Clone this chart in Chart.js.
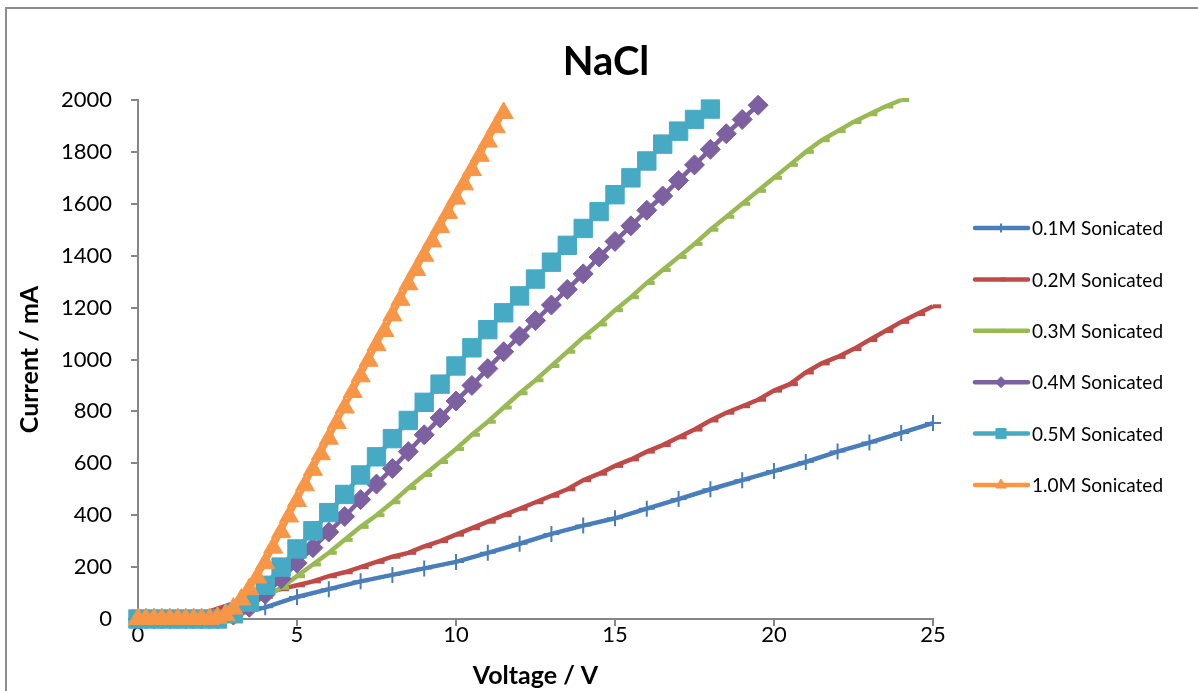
<!DOCTYPE html>
<html>
<head>
<meta charset="utf-8">
<title>NaCl</title>
<script src="https://cdn.jsdelivr.net/npm/chart.js@4.4.0/dist/chart.umd.min.js"></script>
<style>
  html, body { margin: 0; padding: 0; background: #fff; overflow: hidden; }
  #frame { position: absolute; left: 5px; top: 7px; width: 1400px; height: 900px; border: 2px solid #8c8c8c; }
  #chart { position: absolute; left: 0; top: 0; }
</style>
</head>
<body>
<div id="frame"></div>
<canvas id="chart" width="1198" height="691"></canvas>
<script>
(function () {
  'use strict';

  var BLUE   = '#4A7EBB';
  var RED    = '#BE4B48';
  var GREEN  = '#98B954';
  var PURPLE = '#7D60A0';
  var CYAN   = '#46AAC5';
  var ORANGE = '#F79646';
  var AXIS   = '#868686';
  var FONT   = 'Lato, "Open Sans", sans-serif';

  // ── Data (voltage in V, current in mA) ──────────────────
  var V_WHOLE = [0, 1, 2, 3, 4, 5, 6, 7, 8, 9, 10, 11, 12, 13, 14, 15, 16, 17, 18, 19, 20, 21, 22, 23, 24, 25];

  var V_HALF = [0, 0.5, 1, 1.5, 2, 2.5, 3, 3.5, 4, 4.5, 5, 5.5, 6, 6.5, 7, 7.5, 8, 8.5, 9, 9.5,
                10, 10.5, 11, 11.5, 12, 12.5, 13, 13.5, 14, 14.5, 15, 15.5, 16, 16.5, 17, 17.5, 18, 18.5, 19, 19.5,
                20, 20.5, 21, 21.5, 22, 22.5, 23, 23.5, 24, 24.5, 25];

  var V_QUARTER = [0, 0.25, 0.5, 0.75, 1, 1.25, 1.5, 1.75, 2, 2.25, 2.5, 2.75, 3, 3.25, 3.5, 3.75,
                   4, 4.25, 4.5, 4.75, 5, 5.25, 5.5, 5.75, 6, 6.25, 6.5, 6.75, 7, 7.25, 7.5, 7.75,
                   8, 8.25, 8.5, 8.75, 9, 9.25, 9.5, 9.75, 10, 10.25, 10.5, 10.75, 11, 11.25, 11.5];

  var I_01M = [0, 0, 0, 15, 45, 85, 115, 145, 170, 195, 220, 255, 290, 328, 360, 388, 425, 462, 500, 535,
               570, 605, 645, 680, 717, 755];

  var I_02M = [0, 0, 0, 5, 20, 40, 60, 80, 100, 115, 130, 145, 165, 180, 200, 220, 240, 255, 280, 300,
               325, 350, 375, 400, 425, 450, 475, 500, 535, 560, 590, 615, 645, 670, 700, 730, 765, 795, 820, 845,
               880, 905, 950, 985, 1010, 1040, 1075, 1110, 1145, 1175, 1205];

  var I_03M = [0, 0, 0, 0, 5, 15, 35, 60, 85, 120, 165, 210, 255, 305, 355, 400, 450, 505, 555, 605,
               655, 710, 760, 815, 870, 920, 975, 1030, 1085, 1135, 1190, 1240, 1295, 1345, 1395, 1445, 1500, 1550, 1600, 1650,
               1700, 1750, 1800, 1845, 1880, 1915, 1945, 1975, 2000];

  var I_04M = [0, 0, 0, 0, 0, 0, 15, 45, 95, 155, 215, 275, 335, 395, 460, 520, 580, 645, 710, 775,
               840, 900, 965, 1030, 1090, 1150, 1210, 1270, 1330, 1395, 1455, 1515, 1575, 1630, 1690, 1750, 1810, 1870, 1925, 1980];

  var I_05M = [0, 0, 0, 0, 0, 0, 20, 65, 130, 200, 270, 340, 410, 480, 555, 625, 695, 765, 835, 905,
               975, 1045, 1115, 1180, 1245, 1310, 1375, 1440, 1505, 1570, 1635, 1700, 1765, 1830, 1880, 1925, 1965];

  var I_10M = [0, 0, 0, 0, 0, 0, 0, 0, 0, 0, 5, 15, 40, 75, 115, 160,
               215, 275, 335, 395, 455, 515, 575, 635, 695, 755, 815, 875, 935, 995, 1055, 1110,
               1170, 1230, 1290, 1345, 1400, 1455, 1510, 1565, 1620, 1675, 1730, 1785, 1840, 1895, 1950];

  var LABELS = ['0.1M Sonicated', '0.2M Sonicated', '0.3M Sonicated', '0.4M Sonicated', '0.5M Sonicated', '1.0M Sonicated'];

  function pairs(xs, ys) {
    return ys.map(function (y, i) { return { x: xs[i], y: y }; });
  }

  var series = [
    { data: pairs(V_WHOLE, I_01M),   color: BLUE,   style: 'cross',    radius: 8,  bw: 2 },
    { data: pairs(V_HALF, I_02M),    color: RED,    style: 'dash',     radius: 8,  bw: 4 },
    { data: pairs(V_HALF, I_03M),    color: GREEN,  style: 'dash',     radius: 8,  bw: 4 },
    { data: pairs(V_HALF, I_04M),    color: PURPLE, style: 'rectRot',  radius: 10, bw: 1 },
    { data: pairs(V_HALF, I_05M),    color: CYAN,   style: 'rect',     radius: 13, bw: 1 },
    { data: pairs(V_QUARTER, I_10M), color: ORANGE, style: 'triangle', radius: 11, bw: 1 }
  ];

  var datasets = series.map(function (s, i) {
    return {
      label: LABELS[i],
      data: s.data,
      borderColor: s.color,
      backgroundColor: s.color,
      borderWidth: 4.5,
      pointStyle: s.style,
      pointRadius: s.radius,
      pointBorderWidth: s.bw,
      pointBackgroundColor: s.color,
      pointBorderColor: s.color,
      tension: 0,
      clip: false,
      order: series.length - 1 - i
    };
  });

  // ── Title + side legend ─────────────────────────────────
  var decor = {
    id: 'decor',
    afterDraw: function (chart) {
      var ctx = chart.ctx;
      ctx.save();
      ctx.fillStyle = '#000';
      ctx.textAlign = 'center';
      ctx.textBaseline = 'middle';
      ctx.font = 'bold 40px ' + FONT;
      ctx.fillText('NaCl', 606, 62);

      ctx.textAlign = 'left';
      ctx.font = '19px ' + FONT;
      chart.data.datasets.forEach(function (ds, i) {
        var y = 228 + i * 51.4;
        ctx.strokeStyle = ds.borderColor;
        ctx.fillStyle = ds.borderColor;
        ctx.lineWidth = 4.5;
        ctx.lineCap = 'round';
        ctx.beginPath();
        ctx.moveTo(975, y);
        ctx.lineTo(1028, y);
        ctx.stroke();
        ctx.lineCap = 'butt';
        ctx.lineWidth = ds.pointBorderWidth;
        if (Chart.helpers && Chart.helpers.drawPoint) {
          Chart.helpers.drawPoint(ctx, {
            pointStyle: ds.pointStyle,
            radius: ds.pointRadius * 0.55,
            rotation: 0,
            borderWidth: ds.pointBorderWidth
          }, 1001, y);
        }
        ctx.fillStyle = '#000';
        ctx.fillText(ds.label, 1032, y + 1);
      });
      ctx.restore();
    }
  };

  new Chart(document.getElementById('chart'), {
    type: 'line',
    data: { datasets: datasets },
    options: {
      responsive: false,
      animation: false,
      layout: { padding: { top: 100, right: 265, left: 0, bottom: 0 } },
      plugins: {
        legend: { display: false },
        title: { display: false },
        tooltip: { enabled: false }
      },
      scales: {
        x: {
          type: 'linear',
          min: 0,
          max: 25,
          ticks: { stepSize: 5, color: '#000', font: { family: FONT, size: 22 }, padding: -4, maxRotation: 0,
                   format: { useGrouping: false } },
          grid: { drawOnChartArea: false, drawTicks: true, tickLength: 7, color: AXIS, lineWidth: 2 },
          border: { display: true, color: AXIS, width: 2 },
          title: {
            display: true,
            text: 'Voltage / V',
            color: '#000',
            font: { family: FONT, size: 25, weight: 'bold' },
            padding: { top: 0, bottom: 0 }
          },
          afterFit: function (s) { s.height = 72; }
        },
        y: {
          type: 'linear',
          min: 0,
          max: 2000,
          ticks: { stepSize: 200, color: '#000', font: { family: FONT, size: 22 }, padding: 19,
                   format: { useGrouping: false } },
          grid: { drawOnChartArea: false, drawTicks: true, tickLength: 7, color: AXIS, lineWidth: 2 },
          border: { display: true, color: AXIS, width: 2 },
          title: {
            display: true,
            text: 'Current / mA',
            color: '#000',
            font: { family: FONT, size: 25, weight: 'bold' },
            padding: { top: 15, bottom: 0 }
          },
          afterFit: function (s) { s.width = 138; }
        }
      }
    },
    plugins: [decor]
  });
}());
</script>
</body>
</html>
